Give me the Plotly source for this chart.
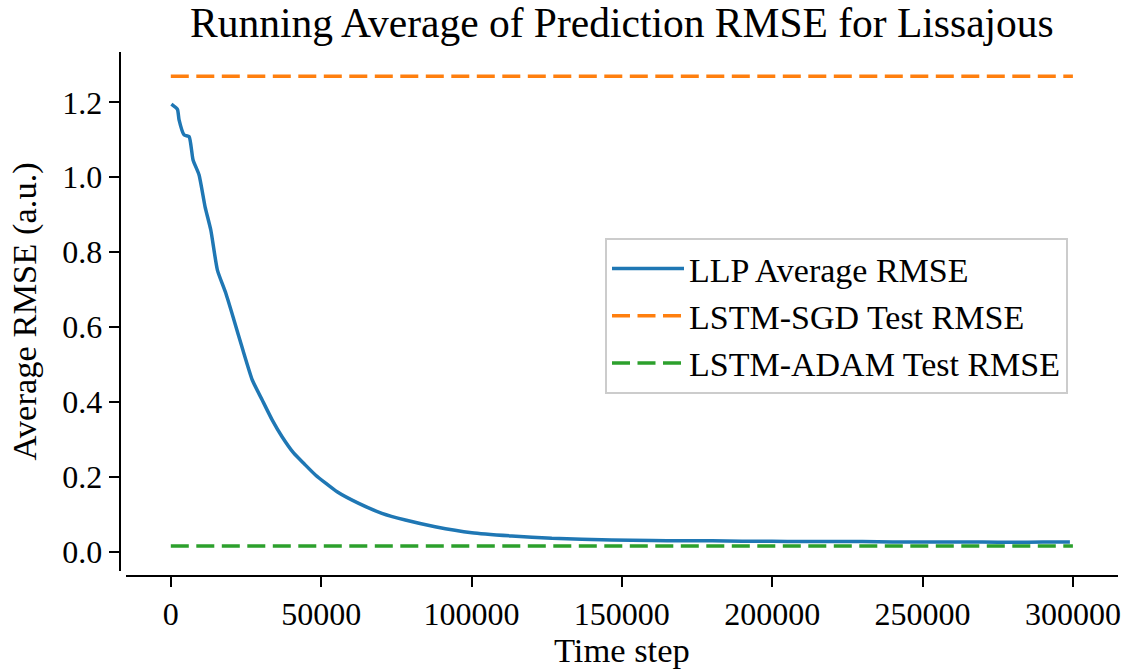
import plotly.graph_objects as go

# ---- data ----
llp_steps = [200, 2200, 2750, 4400, 6100, 7400, 9400, 11400, 13300, 15500, 18300,
             21000, 23800, 27100, 30400, 33700, 37000, 40900, 44200, 48100, 55300,
             62500, 70200, 78000, 87900, 100100, 113400, 126700, 146600, 160000,
             170000, 180000, 190000, 200000, 210000, 220000, 230000, 240000,
             250000, 260000, 270000, 280000, 290000, 299000]
llp_rmse = [1.195, 1.181, 1.153, 1.113, 1.108, 1.046, 1.006, 0.921, 0.859, 0.752, 0.690,
            0.619, 0.543, 0.4585, 0.405, 0.352, 0.307, 0.263, 0.236, 0.205, 0.160,
            0.129, 0.1025, 0.0846, 0.0668, 0.0507, 0.042, 0.0358, 0.0312, 0.030,
            0.029, 0.029, 0.028, 0.028, 0.027, 0.027, 0.027, 0.026,
            0.026, 0.026, 0.026, 0.025, 0.026, 0.026]
ref_steps = [0, 300000]
sgd_rmse = 1.2694
adam_rmse = 0.0152

x_ticks = [0, 50000, 100000, 150000, 200000, 250000, 300000]
y_ticks = [0.0, 0.2, 0.4, 0.6, 0.8, 1.0, 1.2]

FONT = "Liberation Serif"
W, H = 1127, 669
ML, MR, MT, MB = 110, 9, 52, 80
pw = W - ML - MR
ph = H - MT - MB

fig = go.Figure()
fig.add_trace(go.Scatter(x=llp_steps, y=llp_rmse, mode="lines", name="LLP Average RMSE",
                         line=dict(color="#1f77b4", width=3.5, shape="spline", smoothing=0.5)))
fig.add_trace(go.Scatter(x=ref_steps, y=[sgd_rmse] * len(ref_steps), mode="lines",
                         name="LSTM-SGD Test RMSE",
                         line=dict(color="#ff7f0e", width=3.5, dash="18px,7.5px")))
fig.add_trace(go.Scatter(x=ref_steps, y=[adam_rmse] * len(ref_steps), mode="lines",
                         name="LSTM-ADAM Test RMSE",
                         line=dict(color="#2ca02c", width=3.5, dash="18px,7.5px")))

fig.update_layout(
    width=W, height=H,
    margin=dict(l=ML, r=MR, t=MT, b=MB, autoexpand=False),
    paper_bgcolor="white", plot_bgcolor="white",
    font=dict(family=FONT, color="black", size=32),
    title=dict(text="Running Average of Prediction RMSE for Lissajous",
               x=621.9 / W, xanchor="center", y=1 - 22 / H, yanchor="middle",
               font=dict(size=41.5, family=FONT)),
    xaxis=dict(
        domain=[(125.7 - ML) / pw, 1], range=[-15000, 315000],
        anchor="free", position=(MT + ph - 576) / ph, automargin=False,
        showline=True, linecolor="black", linewidth=2,
        ticks="outside", ticklen=10, tickwidth=2, tickcolor="black",
        tickvals=x_ticks, ticktext=[str(v) for v in x_ticks],
        showgrid=False, zeroline=False,
        tickfont=dict(size=32, family=FONT),
        title=dict(text="Time step", font=dict(size=34.5, family=FONT), standoff=6),
    ),
    yaxis=dict(
        domain=[(MT + ph - 570.7) / ph, 1], range=[-0.0507, 1.3343],
        anchor="free", position=(119.7 - ML) / pw, automargin=False,
        showline=True, linecolor="black", linewidth=2,
        ticks="outside", ticklen=10, tickwidth=2, tickcolor="black",
        tickvals=y_ticks, ticktext=["%.1f" % v for v in y_ticks],
        showgrid=False, zeroline=False,
        tickfont=dict(size=32, family=FONT),
        title=dict(text="Average RMSE (a.u.)", font=dict(size=34.5, family=FONT), standoff=14),
    ),
    legend=dict(
        x=(605 - ML) / pw, y=(MT + ph - 238) / ph, xanchor="left", yanchor="top",
        bgcolor="rgba(255,255,255,0.8)", bordercolor="#cccccc", borderwidth=2,
        font=dict(size=34, family=FONT), itemwidth=72,
    ),
    showlegend=True,
)

fig.write_html("out.html")
